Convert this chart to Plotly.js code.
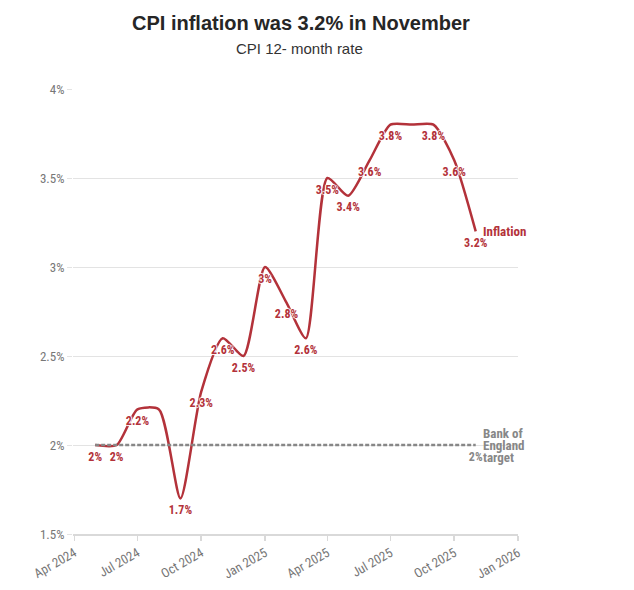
<!DOCTYPE html>
<html>
<head>
<meta charset="utf-8">
<script src="https://cdn.plot.ly/plotly-3.0.1.min.js"></script>
<style>html,body{margin:0;padding:0;background:#fff;}#chart{width:634px;height:590px;}</style>
</head>
<body>
<div id="chart"></div>
<script>
const months = ['2024-05-01','2024-06-01','2024-07-01','2024-08-01','2024-09-01','2024-10-01','2024-11-01','2024-12-01',
  '2025-01-01','2025-02-01','2025-03-01','2025-04-01','2025-05-01','2025-06-01','2025-07-01','2025-08-01','2025-09-01','2025-10-01','2025-11-01'];
const inflation = [2.0,2.0,2.2,2.2,1.7,2.3,2.6,2.5,3.0,2.8,2.6,3.5,3.4,3.6,3.8,3.8,3.8,3.6,3.2];
const inflationLabels = ['2%','2%','2.2%','','1.7%','2.3%','2.6%','2.5%','3%','2.8%','2.6%','3.5%','3.4%','3.6%','3.8%','','3.8%','3.6%','3.2%'];
const targetDates = ['2024-05-01','2025-11-01'];
const target = [2.0,2.0];
const targetLabels = ['','2%'];
const targetNameLines = ['Bank of','England','target'];
const yTicks = [1.5,2,2.5,3,3.5,4];
const yTickLabels = ['1.5%','2%','2.5%','3%','3.5%','4%'];
const xTicks = ['2024-04-01','2024-07-01','2024-10-01','2025-01-01','2025-04-01','2025-07-01','2025-10-01','2026-01-01'];
const xTickLabels = ['Apr 2024','Jul 2024','Oct 2024','Jan 2025','Apr 2025','Jul 2025','Oct 2025','Jan 2026'];

const RED = '#b3323a';
const GREY = '#878787';
const COND = '"Liberation Sans Narrow", "Roboto Condensed", "Arial Narrow", "DejaVu Sans Condensed", sans-serif';
const halo = '1px 0 1px #fff, -1px 0 1px #fff, 0 1px 1px #fff, 0 -1px 1px #fff';

const traces = [
  {
    x: months, y: inflation, text: inflationLabels,
    type: 'scatter', mode: 'lines+markers+text',
    line: {color: RED, width: 2.5, shape: 'spline', smoothing: 0.65},
    marker: {size: 9, opacity: 0, color: RED},
    textposition: 'bottom center',
    textfont: {family: COND, size: 12, color: RED, weight: 'bold', shadow: halo},
    hoverinfo: 'skip', showlegend: false, cliponaxis: false
  },
  {
    x: targetDates, y: target, text: targetLabels,
    type: 'scatter', mode: 'lines+markers+text',
    line: {color: GREY, width: 2.5, dash: '4px,2px'},
    marker: {size: 9, opacity: 0, color: GREY},
    textposition: 'bottom center',
    textfont: {family: COND, size: 12, color: GREY, weight: 'bold'},
    hoverinfo: 'skip', showlegend: false, cliponaxis: false
  }
];

const annotations = [
  {x: 0.512, y: 1.148, xref: 'paper', yref: 'paper', text: '<b>CPI inflation was 3.2% in November</b>',
   showarrow: false, xanchor: 'center', yanchor: 'middle',
   font: {family: '"Liberation Sans", Arial, sans-serif', size: 20, color: '#262626'}},
  {x: 0.508, y: 1.09, xref: 'paper', yref: 'paper', text: 'CPI 12- month rate',
   showarrow: false, xanchor: 'center', yanchor: 'middle',
   font: {family: '"Liberation Sans", Arial, sans-serif', size: 15, color: '#333'}},
  {x: months[months.length - 1], y: inflation[inflation.length - 1], xref: 'x', yref: 'y', text: '<b>Inflation</b>', showarrow: false,
   xanchor: 'left', yanchor: 'middle', xshift: 5,
   font: {family: COND, size: 13, color: RED}}
];
targetNameLines.forEach((t, i) => {
  annotations.push({x: targetDates[1], y: target[1], xref: 'x', yref: 'y', text: '<b>' + t + '</b>', showarrow: false,
    xanchor: 'left', yanchor: 'middle', xshift: 5, yshift: 12 - 12 * i,
    font: {family: COND, size: 13, color: GREY}});
});

const layout = {
  width: 634, height: 590,
  margin: {l: 73, r: 116, t: 89, b: 56},
  paper_bgcolor: '#fff', plot_bgcolor: '#fff',
  xaxis: {
    type: 'date', range: ['2024-03-30','2026-01-01'],
    tickvals: xTicks, ticktext: xTickLabels, tickangle: -30,
    showgrid: false, zeroline: false,
    showline: true, linecolor: '#d9d9d9', linewidth: 1.5,
    ticks: 'outside', ticklen: 5, tickcolor: '#d9d9d9', tickwidth: 1.5,
    tickfont: {family: COND, size: 13, color: '#777'}, fixedrange: true
  },
  yaxis: {
    range: [1.5, 4], tickvals: yTicks, ticktext: yTickLabels,
    showgrid: true, gridcolor: '#e3e3e3', gridwidth: 1,
    zeroline: false, showline: false,
    ticks: 'outside', ticklen: 5, tickcolor: '#e3e3e3',
    tickfont: {family: COND, size: 13, color: '#777'}, fixedrange: true
  },
  annotations: annotations
};

Plotly.newPlot('chart', traces, layout, {displayModeBar: false, staticPlot: true});
</script>
</body>
</html>
